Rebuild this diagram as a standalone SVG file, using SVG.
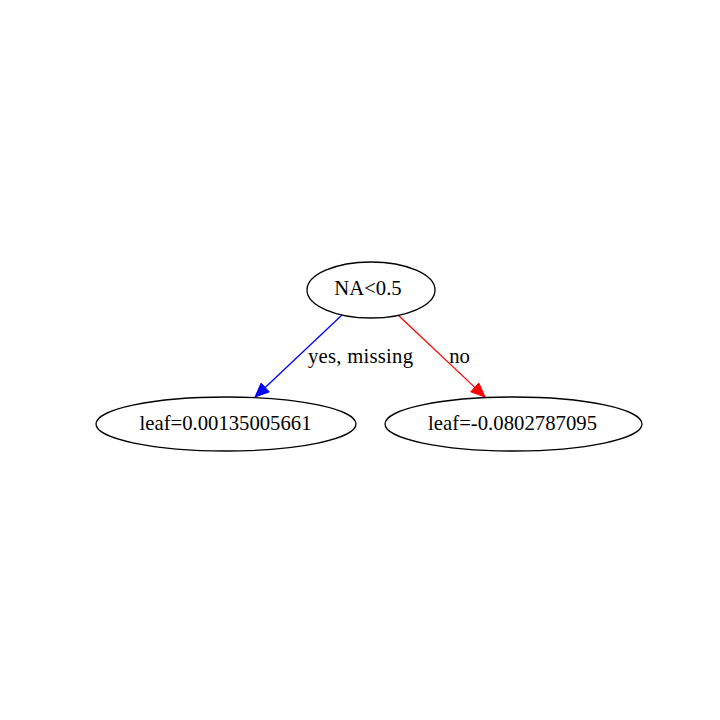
<svg xmlns="http://www.w3.org/2000/svg" width="720" height="720" viewBox="0 0 720 720">
<style>
.node ellipse{fill:none;stroke:#000;stroke-width:1.3}
text{font-family:"Liberation Serif","Times New Roman",serif;font-size:20.7px;fill:#000}
</style>
<rect width="720" height="720" fill="#fff"/>
<g id="connectors">
<g id="e0">
<path d="M342,315 L265.2,387.5" stroke="#0000ff" stroke-width="1.3" fill="none"/>
<polygon points="269.3,391.9 255,397 261.1,383.1" fill="#0000ff" stroke="#0000ff"/>
<text x="360.5" y="363" text-anchor="middle" textLength="105" lengthAdjust="spacing">yes, missing</text>
</g>
<g id="e1">
<path d="M398,315 L474.8,387.4" stroke="#ff0000" stroke-width="1.3" fill="none"/>
<polygon points="470.7,391.8 485,397 478.9,383" fill="#ff0000" stroke="#ff0000"/>
<text x="459.5" y="363" text-anchor="middle">no</text>
</g>
</g>
<g id="n0" class="node">
<ellipse cx="371" cy="290" rx="64" ry="28"/>
<text x="368" y="295" text-anchor="middle">NA&lt;0.5</text>
</g>
<g id="n1" class="node">
<ellipse cx="226" cy="424" rx="130" ry="27"/>
<text x="225.5" y="430" text-anchor="middle" textLength="172" lengthAdjust="spacing">leaf=0.00135005661</text>
</g>
<g id="n2" class="node">
<ellipse cx="513.5" cy="424" rx="128.5" ry="27"/>
<text x="512.5" y="430" text-anchor="middle" textLength="169" lengthAdjust="spacing">leaf=-0.0802787095</text>
</g>
</svg>
